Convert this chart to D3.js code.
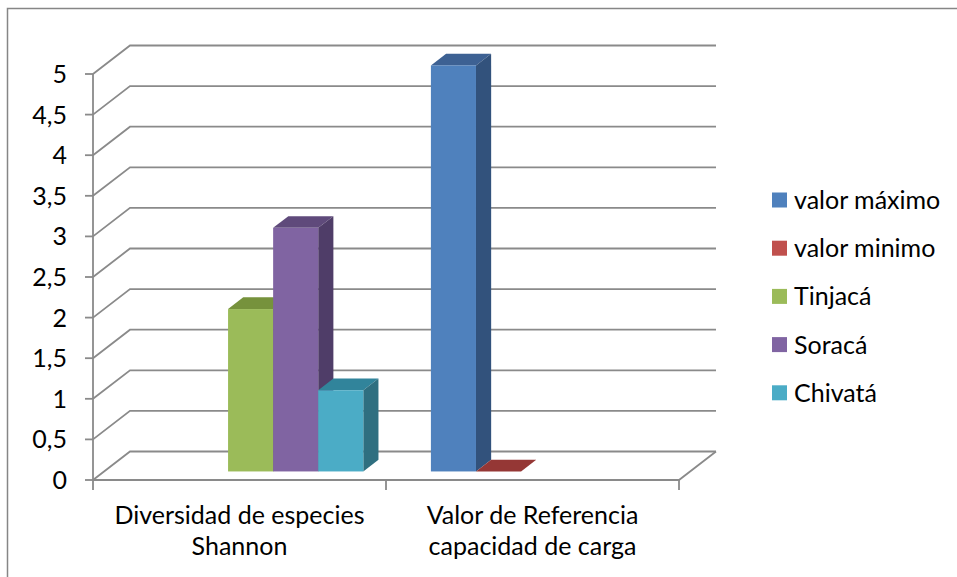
<!DOCTYPE html>
<html>
<head>
<meta charset="utf-8">
<script src="https://cdn.jsdelivr.net/npm/d3@7/dist/d3.min.js"></script>
<style>
  html, body { margin: 0; padding: 0; background: #fff; }
  svg { display: block; }
  text { font-family: Lato, "Open Sans", "Liberation Sans", sans-serif; fill: #000; }
</style>
</head>
<body>
<svg id="chart" width="957" height="577"></svg>
<script>
// Categories (two-line labels) and series
const categories = ["Diversidad de especies Shannon", "Valor de Referencia capacidad de carga"];
const categoryLines = [["Diversidad de especies", "Shannon"], ["Valor de Referencia", "capacidad de carga"]];
const series = ["valor máximo", "valor minimo", "Tinjacá", "Soracá", "Chivatá"];
// null = no value for that category
const valorMaximo = [null, 5];
const valorMinimo = [null, 0];
const tinjaca = [2, null];
const soraca = [3, null];
const chivata = [1, null];
const yTicks = [0, 0.5, 1, 1.5, 2, 2.5, 3, 3.5, 4, 4.5, 5];

const seriesValues = [valorMaximo, valorMinimo, tinjaca, soraca, chivata];
const frontColors = ["#4F81BD", "#C0504D", "#9BBB59", "#8064A2", "#4BACC6"];
const topColors   = ["#3D6193", "#953735", "#76923C", "#5F4A7B", "#31849B"];
const sideColors  = ["#32527C", "#7A2C2A", "#607830", "#4F3D68", "#2F6F80"];

const svg = d3.select("#chart");
const fontSize = 25;

// Outer chart frame
svg.append("rect")
  .attr("x", 7.5).attr("y", 8.5).attr("width", 1000).attr("height", 1000)
  .attr("fill", "none").attr("stroke", "#868686").attr("stroke-width", 1.5);

// Front plane geometry and depth offset of the 3D box
const x0 = 93, x1 = 679;
const depthDX = 37, depthDY = -28.5;
const y = d3.scaleLinear().domain([0, 5]).range([480, 74]);
const xCat = d3.scaleBand().domain(categories).range([x0, x1]).paddingInner(0).paddingOuter(0);
const xSer = d3.scaleBand().domain(series).range([0, xCat.bandwidth()])
  .paddingInner(0).paddingOuter(0.75);

// project (x on front plane, value, depth fraction 0..1)
const P = (px, v, d) => [px + depthDX * d, y(v) + depthDY * d];

const gridColor = "#8A8A8A";
const grid = svg.append("g").attr("fill", "none").attr("stroke", gridColor).attr("stroke-width", 1.8);

// Left wall diagonals + back wall gridlines
yTicks.forEach(t => {
  const a = P(x0, t, 0), b = P(x0, t, 1), c = P(x1, t, 1);
  grid.append("path").attr("d", d3.line()([a, b, c]));
});
// Floor front edge and right edge
grid.append("path").attr("d", d3.line()([P(x0, 0, 0), P(x1, 0, 0), P(x1, 0, 1)]));

// Value axis (vertical line + ticks)
const yAxisG = svg.append("g");
yAxisG.append("line")
  .attr("x1", x0).attr("x2", x0).attr("y1", y(5)).attr("y2", y(0))
  .attr("stroke", gridColor).attr("stroke-width", 1.8);
yAxisG.selectAll(".ytick").data(yTicks).join("line")
  .attr("x1", x0 - 8).attr("x2", x0).attr("y1", d => y(d)).attr("y2", d => y(d))
  .attr("stroke", gridColor).attr("stroke-width", 1.8);
const fmt = d => String(d).replace(".", ",");
yAxisG.selectAll(".ylab").data(yTicks).join("text")
  .attr("x", 67).attr("y", d => y(d)).attr("dy", "0.36em")
  .attr("text-anchor", "end").attr("font-size", fontSize)
  .text(fmt);

// Category axis ticks
const catTicks = [x0, ...categories.map(c => xCat(c) + xCat.bandwidth())];
svg.selectAll(".xtick").data(catTicks).join("line")
  .attr("x1", d => d).attr("x2", d => d).attr("y1", y(0)).attr("y2", y(0) + 10)
  .attr("stroke", gridColor).attr("stroke-width", 1.8);

// Category labels
categories.forEach((c, i) => {
  const cx = xCat(c) + xCat.bandwidth() / 2;
  const t = svg.append("text").attr("x", cx).attr("y", 524)
    .attr("text-anchor", "middle").attr("font-size", fontSize);
  categoryLines[i].forEach((ln, k) => {
    t.append("tspan").attr("x", cx).attr("dy", k === 0 ? 0 : 31).text(ln);
  });
});

// 3D bars: front plane at depth dA, back plane at dB
const dA = 0.30, dB = 0.71;
const bars = svg.append("g");
categories.forEach((c, ci) => {
  series.forEach((s, si) => {
    const v = seriesValues[si][ci];
    if (v === null || v === undefined) return;
    const xl = xCat(c) + xSer(s), xr = xl + xSer.bandwidth();
    const g = bars.append("g");
    // top face
    g.append("path")
      .attr("d", d3.line()([P(xl, v, dA), P(xr, v, dA), P(xr, v, dB), P(xl, v, dB)]) + "Z")
      .attr("fill", topColors[si]);
    if (v > 0) {
      // side face
      g.append("path")
        .attr("d", d3.line()([P(xr, 0, dA), P(xr, v, dA), P(xr, v, dB), P(xr, 0, dB)]) + "Z")
        .attr("fill", sideColors[si]);
      // front face
      const a = P(xl, v, dA), b = P(xr, 0, dA);
      g.append("rect")
        .attr("x", a[0]).attr("y", a[1]).attr("width", b[0] - a[0]).attr("height", b[1] - a[1])
        .attr("fill", frontColors[si]);
    }
  });
});

// Legend
const legend = svg.append("g").attr("transform", "translate(772,200)");
const items = legend.selectAll("g").data(series).join("g")
  .attr("transform", (d, i) => `translate(0,${i * 48.2})`);
items.append("rect").attr("x", 0).attr("y", -7.5).attr("width", 15).attr("height", 15)
  .attr("fill", (d, i) => frontColors[i]);
items.append("text").attr("x", 22).attr("y", 0).attr("dy", "0.36em")
  .attr("font-size", fontSize).text(d => d);
</script>
</body>
</html>
